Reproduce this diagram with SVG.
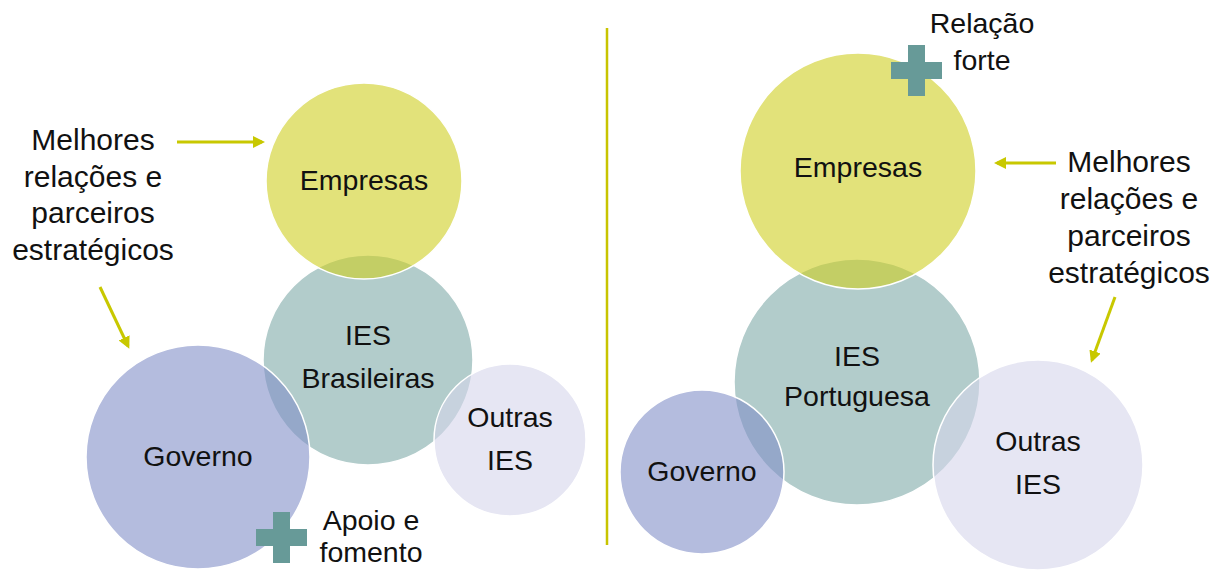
<svg xmlns="http://www.w3.org/2000/svg" width="1222" height="570" viewBox="0 0 1222 570">
<defs>
<marker id="ah" markerWidth="4" markerHeight="4" refX="3" refY="2" orient="auto" markerUnits="strokeWidth">
<path d="M0,0 L4,2 L0,4 Z" fill="#c8c800"/>
</marker>
<style>
.c{stroke:#fff;stroke-width:1.5;fill-opacity:0.6}
.emp{fill:rgb(207,207,33)}
.ies{fill:rgb(127,170,168)}
.gov{fill:rgb(130,143,200)}
.out{fill:rgb(214,214,235)}
.plus{fill:#679a98}
text{font-family:"Liberation Sans",Arial,sans-serif;font-size:28.5px;fill:#111;text-anchor:middle}
.lbl{font-size:30px}
.arr{stroke:#c8c800;stroke-width:3;fill:none;marker-end:url(#ah)}
</style>
</defs>
<rect width="1222" height="570" fill="#fff"/>

<g id="connectors">
<line x1="607" y1="28" x2="607" y2="545" stroke="#c8c400" stroke-width="2.5"/>
<line class="arr" x1="177" y1="142" x2="262" y2="142"/>
<line class="arr" x1="100" y1="287" x2="128" y2="346"/>
<line class="arr" x1="1056" y1="163" x2="997" y2="163"/>
<line class="arr" x1="1115" y1="297" x2="1092" y2="360"/>
</g>

<!-- Left diagram -->
<g id="ies-brasileiras">
<circle class="c ies" cx="368" cy="360" r="105"/>
<text x="368" y="345">IES</text>
<text x="368" y="388">Brasileiras</text>
</g>
<g id="empresas-left">
<circle class="c emp" cx="364" cy="181" r="98"/>
</g>
<g id="governo-left">
<circle class="c gov" cx="198" cy="457" r="112"/>
<text x="198" y="466">Governo</text>
</g>
<g id="outras-left">
<circle class="c out" cx="510" cy="440" r="76"/>
<text x="510" y="427">Outras</text>
<text x="510" y="470">IES</text>
</g>
<text x="364" y="190">Empresas</text>

<g id="note-left">
<text class="lbl" x="93" y="150">Melhores</text>
<text class="lbl" x="93" y="187">relações e</text>
<text class="lbl" x="93" y="223">parceiros</text>
<text class="lbl" x="93" y="260">estratégicos</text>
</g>

<g id="apoio">
<path class="plus" d="M273,512 h17 v17 h17 v17 h-17 v17 h-17 v-17 h-17 v-17 h17 Z"/>
<text x="371" y="530">Apoio e</text>
<text x="371" y="562">fomento</text>
</g>

<!-- Right diagram -->
<g id="ies-portuguesa">
<circle class="c ies" cx="857" cy="382" r="123"/>
<text x="857" y="366">IES</text>
<text x="857" y="406">Portuguesa</text>
</g>
<g id="empresas-right">
<circle class="c emp" cx="858" cy="171" r="118"/>
<text x="858" y="177">Empresas</text>
</g>
<g id="governo-right">
<circle class="c gov" cx="702" cy="472" r="82"/>
<text x="702" y="481">Governo</text>
</g>
<g id="outras-right">
<circle class="c out" cx="1038" cy="465" r="105"/>
<text x="1038" y="451">Outras</text>
<text x="1038" y="494">IES</text>
</g>

<g id="note-right">
<text class="lbl" x="1129" y="172">Melhores</text>
<text class="lbl" x="1129" y="209">relações e</text>
<text class="lbl" x="1129" y="246">parceiros</text>
<text class="lbl" x="1129" y="283">estratégicos</text>
</g>

<g id="relacao-forte">
<path class="plus" d="M908,45 h17 v17 h17 v17 h-17 v17 h-17 v-17 h-17 v-17 h17 Z"/>
<text x="982" y="33">Relação</text>
<text x="982" y="70">forte</text>
</g>
</svg>
